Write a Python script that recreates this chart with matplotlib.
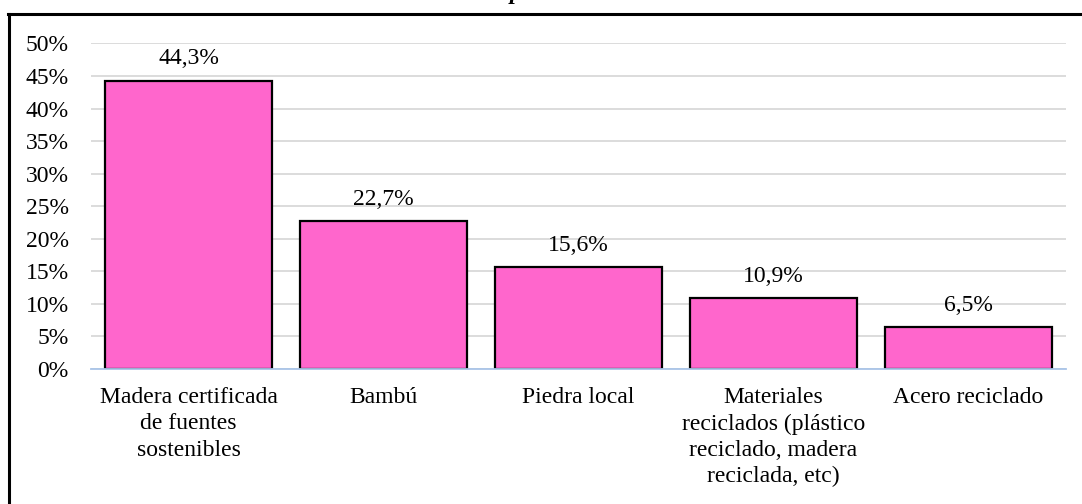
import matplotlib
matplotlib.use('Agg')
import matplotlib.pyplot as plt
from matplotlib.lines import Line2D

categorias = ['Madera certificada\nde fuentes\nsostenibles',
              'Bambú',
              'Piedra local',
              'Materiales\nreciclados (plástico\nreciclado, madera\nreciclada, etc)',
              'Acero reciclado']
valores = [44.3, 22.7, 15.6, 10.9, 6.5]
etiquetas = ['44,3%', '22,7%', '15,6%', '10,9%', '6,5%']
ticks_y = [0, 5, 10, 15, 20, 25, 30, 35, 40, 45, 50]

plt.rcParams['font.family'] = ['Liberation Serif', 'DejaVu Serif']
fs = 17

fig = plt.figure(figsize=(10.82, 5.04), dpi=100)
ax = fig.add_axes([0.0841, 0.2679, 0.9011, 0.6458])

x = range(len(categorias))
ax.bar(x, valores, width=0.86, color='#FF66CC', edgecolor='black',
       linewidth=1.6, zorder=3)
for xi, v, t in zip(x, valores, etiquetas):
    ax.annotate(t, (xi, v), xytext=(0, 8), textcoords='offset points',
                ha='center', va='bottom', fontsize=fs)

ax.set_xlim(-0.5, len(categorias) - 0.5)
ax.set_ylim(0, 50)
ax.set_yticks(ticks_y)
ax.set_yticklabels([f'{t}%' for t in ticks_y], fontsize=fs)
ax.set_xticks(list(x))
ax.set_xticklabels(categorias, fontsize=fs, linespacing=1.33)
ax.tick_params(axis='y', length=0, pad=16)
ax.tick_params(axis='x', length=0, pad=13)
ax.yaxis.grid(True, color='#D9D9D9', linewidth=1.3, zorder=0)
for s in ['top', 'right', 'left']:
    ax.spines[s].set_visible(False)
ax.spines['bottom'].set_color('#A9C4E8')
ax.spines['bottom'].set_linewidth(1.3)
ax.spines['bottom'].set_zorder(4)

# marco exterior (cortado abajo y a la derecha)
fig.add_artist(Line2D([9.3 / 1082, 9.3 / 1082], [-0.01, 1 - 14 / 504],
                      color='black', linewidth=2.2))
fig.add_artist(Line2D([8 / 1082, 1.01], [1 - 14 / 504, 1 - 14 / 504],
                      color='black', linewidth=2.2))

# título cortado en la parte superior
fig.text(516 / 1082, 1 + 1.5 / 504, 'p', ha='center', va='baseline',
         fontsize=fs, fontstyle='italic', fontweight='bold')

fig.savefig('out.png', dpi=100)
